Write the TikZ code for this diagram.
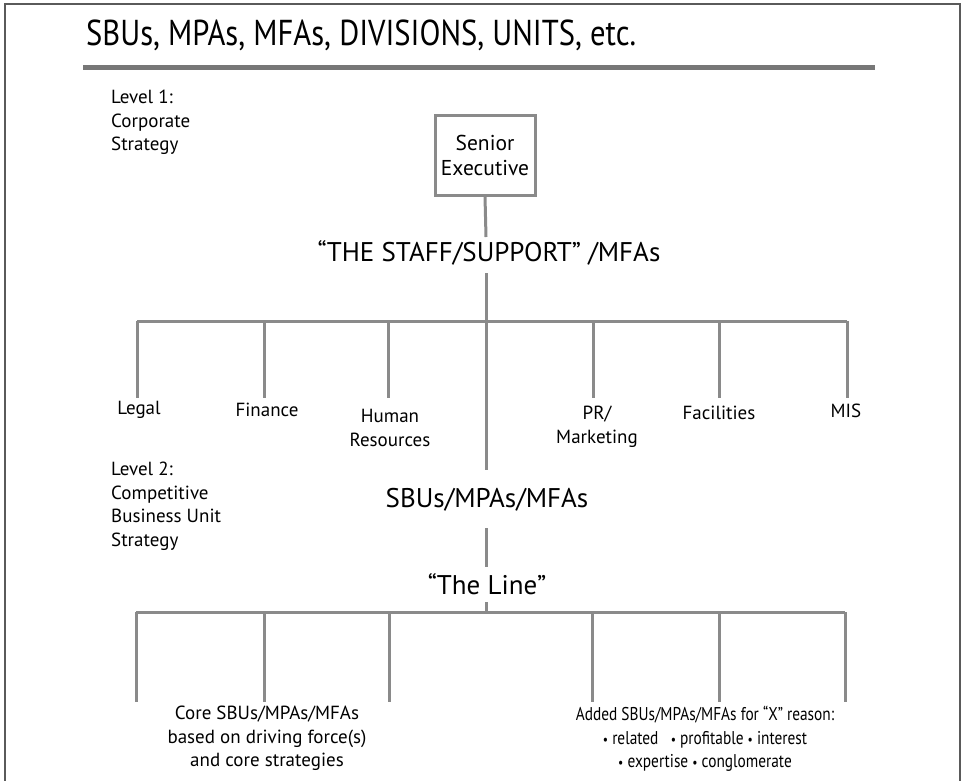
\documentclass[tikz,border=0pt]{standalone}
\usepackage{fontspec}
\setmainfont{PT Sans}
\newfontfamily\titlefont[FakeStretch=0.85]{PT Sans}
\newfontfamily\narrowfont[FakeStretch=0.83]{PT Sans}
\newcommand{\dotmark}{{\fontsize{14}{14}\selectfont•}}
\definecolor{wiregray}{HTML}{8A8A8A}
\definecolor{framegray}{HTML}{5A5A5A}
\definecolor{rulegray}{HTML}{777777}
\begin{document}
\begin{tikzpicture}[x=1pt,y=-1pt,
  wire/.style={draw=wiregray, line width=3pt},
  levellbl/.style={font=\fontsize{19}{23.5}\selectfont, align=left, anchor=north west, inner sep=0pt},
  dept/.style={font=\fontsize{19}{24}\selectfont, align=center, inner sep=0pt},
  head/.style={font=\fontsize{27}{30}\selectfont, inner sep=0pt},
  execbox/.style={draw=wiregray, line width=3pt, minimum width=100pt, minimum height=80pt,
    align=center, inner sep=0pt, font=\fontsize{21.5}{25}\selectfont},
  note/.style={align=center, anchor=north, inner sep=0pt}]
\useasboundingbox (0,0) rectangle (962,780);

% outer frame (open at the bottom)
\draw[framegray, line width=2pt] (5,781) -- (5,4) -- (960,4) -- (960,781);

% title and rule
\node[anchor=west, inner sep=0pt, font=\titlefont\fontsize{36}{40}\selectfont] (title) at (86,35)
  {SBUs, MPAs, MFAs, DIVISIONS, UNITS, etc.};
\fill[rulegray] (83,65) rectangle (875,70);

% level captions
\node[levellbl] (lvl1) at (111,90) {Level 1:\\Corporate\\Strategy};
\node[levellbl] (lvl2) at (111,462) {Level 2:\\Competitive\\Business Unit\\Strategy};

% spine
\node[execbox] (senior) at (485,155) {Senior\\Executive};
\node[head] (staff) at (489,253) {“THE STAFF/SUPPORT” /MFAs};
\node[head] (sbu) at (487,500) {SBUs/MPAs/MFAs};
\node[head] (theline) at (487,584) {“The Line”};

\coordinate (staffTop) at (486,237);
\coordinate (staffBot) at (486,273);
\coordinate (sbuTop) at (486,470);
\coordinate (sbuBot) at (486,528);
\coordinate (lineTop) at (486,567);
\coordinate (lineBot) at (486,602);

\draw[wire] (senior.south) -- (staffTop);
\draw[wire] (staffBot) -- (sbuTop);
\draw[wire] (sbuBot) -- (lineTop);

% staff departments
\node[dept] (legal) at (139,410) {Legal};
\node[dept] (finance) at (267,410) {Finance};
\node[dept] (hr) at (390,428) {Human\\Resources};
\node[dept] (pr) at (597,427) {PR/\\Marketing};
\node[dept] (fac) at (719,413) {Facilities};
\node[dept] (mis) at (846,411) {MIS};

\coordinate (sL) at (137,321);
\coordinate (sR) at (847,321);
\draw[wire] (sL) -- (sR);
\foreach \x/\n in {137/a,264/b,388/c,593/d,719/e,847/f}{
  \coordinate (sd\n) at (\x,398);
  \draw[wire] (\x,321) -- (sd\n);
}

% line units
\coordinate (lL) at (136,612);
\coordinate (lR) at (845,612);
\draw[wire] (lineBot) -- (486,612);
\draw[wire] (lL) -- (lR);
\foreach \x/\n in {136/a,264/b,389/c,592/d,719/e,845/f}{
  \coordinate (ld\n) at (\x,702);
  \draw[wire] (\x,612) -- (ld\n);
}

\node[note, font=\fontsize{19}{23.5}\selectfont] (core) at (267,706)
  {Core SBUs/MPAs/MFAs\\based on driving force(s)\\and core strategies};
\node[note, font=\narrowfont\fontsize{18.5}{23.5}\selectfont] (added) at (705,706)
  {Added SBUs/MPAs/MFAs for “X” reason:\\\dotmark{} related~~ \dotmark{} profitable \dotmark{} interest\\\dotmark{} expertise \dotmark{} conglomerate};
\end{tikzpicture}
\end{document}
